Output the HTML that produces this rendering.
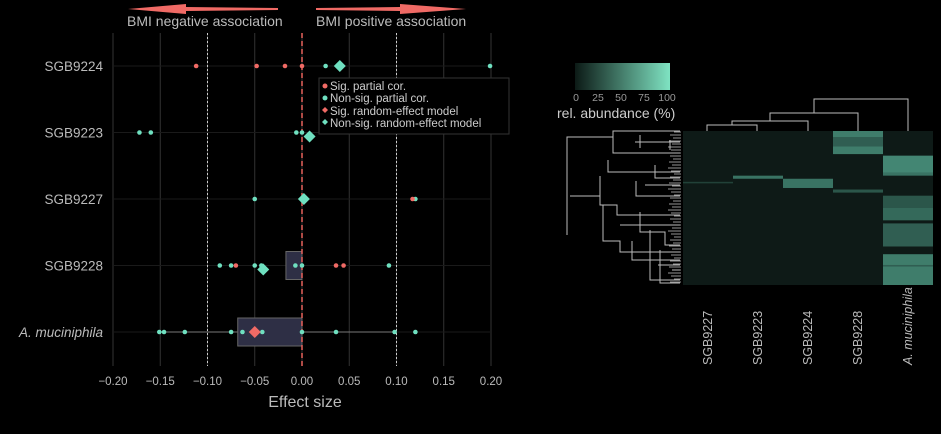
<!DOCTYPE html>
<html><head><meta charset="utf-8"><style>
body{margin:0;background:#000;width:941px;height:429px;overflow:hidden;font-family:"Liberation Sans",sans-serif}
text{font-family:"Liberation Sans",sans-serif}
</style></head><body>
<svg id="s" width="941" height="429">
<defs><linearGradient id="g" x1="0" x2="1"><stop offset="0" stop-color="#0c1a16"/><stop offset="1" stop-color="#7fe3c2"/></linearGradient></defs>
</svg>
<script>
const ticks=[-0.20,-0.15,-0.10,-0.05,0.00,0.05,0.10,0.15,0.20];
const rows=["SGB9224","SGB9223","SGB9227","SGB9228","A. muciniphila"];
const sigPts=[[0,-0.112],[0,-0.048],[0,-0.018],[0,0.0],[3,-0.070],[3,0.036],[3,0.044],[2,0.117]];
const nsPts=[[0,0.025],[0,0.199],[1,-0.172],[1,-0.160],[1,-0.006],[1,0.0],[2,-0.050],[2,0.120],[3,-0.087],[3,-0.075],[3,-0.050],[3,-0.043],[3,-0.007],[3,0.0],[3,0.092],[4,-0.151],[4,-0.146],[4,-0.124],[4,-0.075],[4,-0.063],[4,-0.042],[4,0.0],[4,0.036],[4,0.098],[4,0.120]];
const diamonds=[[0,0.040,0],[1,0.008,0],[2,0.002,0],[3,-0.041,0],[4,-0.050,1]];
const boxes=[[3,-0.017,0.0],[4,-0.068,0.0]];
const whisk=[[4,-0.151,0.098]];
const cols=["SGB9227","SGB9223","SGB9224","SGB9228","A. muciniphila"];
const bands=[[0,0.33,0.34,0.2],[1,0.29,0.31,0.45],[2,0.31,0.37,0.45],[3,0.0,0.04,0.5],[3,0.04,0.1,0.35],[3,0.1,0.15,0.5],[3,0.38,0.4,0.3],[4,0.16,0.27,0.55],[4,0.27,0.29,0.45],[4,0.42,0.5,0.3],[4,0.5,0.58,0.4],[4,0.6,0.75,0.35],[4,0.8,0.87,0.5],[4,0.87,0.88,0.35],[4,0.88,1.0,0.5]];
const S=document.getElementById('s');const NS='http://www.w3.org/2000/svg';
function el(t,a,p){const e=document.createElementNS(NS,t);for(const k in a)e.setAttribute(k,a[k]);(p||S).appendChild(e);return e}
const X=v=>302+v*945, Y=i=>66+i*66.5;
for(const t of ticks){const g=el('line',{x1:X(t),x2:X(t),y1:33,y2:366,stroke:'#333','stroke-width':1});

const tx=el('text',{x:X(t),y:385,fill:'#bbb','font-size':11.5,'text-anchor':'middle'});tx.textContent=t.toFixed(2).replace('-','−');
}
rows.forEach((r,i)=>{el('line',{x1:112,x2:491,y1:Y(i),y2:Y(i),stroke:'#1a1a1a'});
const t=el('text',{x:103,y:Y(i)+5,fill:'#bbb','font-size':13.5,'text-anchor':'end','font-style':i==4?'italic':'normal'});t.textContent=r;
});
for(const v of [-0.1,0.1])el('line',{x1:X(v),x2:X(v),y1:33,y2:366,stroke:'#ccc','stroke-dasharray':'2,2'});
for(const w of whisk){const l=el('line',{x1:X(w[1]),x2:X(w[2]),y1:Y(w[0]),y2:Y(w[0]),stroke:'#777'});}
for(const b of boxes){const r=el('rect',{x:X(b[1]),y:Y(b[0])-14,width:X(b[2])-X(b[1]),height:28,fill:'#2e2f45',stroke:'#666'});
}
el('line',{x1:302,x2:302,y1:33,y2:366,stroke:'#e8625c','stroke-width':1.5,'stroke-dasharray':'5,3'});
for(const p of nsPts){const c=el('circle',{cx:X(p[1]),cy:Y(p[0]),r:2.3,fill:'#6fe0c0'});}
for(const p of sigPts){const c=el('circle',{cx:X(p[1]),cy:Y(p[0]),r:2.3,fill:'#f06a65'});}
for(const d of diamonds){const x=X(d[1]),y=Y(d[0])+(d[0]==1||d[0]==3?4:0);
const p=el('polygon',{points:`${x},${y-6} ${x+6},${y} ${x},${y+6} ${x-6},${y}`,fill:d[2]?'#f06a65':'#6fe0c0'});
}
const hx=683,hy=131,hw=50,hh=154;
cols.forEach((c,i)=>{el('rect',{x:hx+i*hw,y:hy,width:hw,height:hh,fill:'#0e1a17'});
const t=el('text',{transform:`translate(${hx+i*hw+29},365) rotate(-90)`,fill:'#bbb','font-size':12.5,'font-style':i==4?'italic':'normal'});t.textContent=c;
});
for(const b of bands){const r=el('rect',{x:hx+b[0]*hw,y:hy+b[1]*hh,width:hw,height:(b[2]-b[1])*hh,fill:'#6fe0c0','fill-opacity':b[3]});
}
// dendrogram leaf ticks
const dg=el('g',{stroke:'#bbb','stroke-width':0.8});
for(let y=132;y<285;y+=3){el('line',{x1:668+(y%7),x2:681,y1:y,y2:y},dg);}
</script>
<svg width="941" height="429" style="position:absolute;left:0;top:0">
<polygon points="128,9 186,4 186,7 278,8 278,10 186,11 186,14" fill="#f06a65"/>
<polygon points="466,9 400,4 400,7 316,8 316,10 400,11 400,14" fill="#f06a65"/>
<text x="127" y="26" fill="#bbb" font-size="14">BMI negative association</text>
<text x="316" y="26" fill="#bbb" font-size="14">BMI positive association</text>
<text x="305" y="407" fill="#bbb" font-size="16" text-anchor="middle">Effect size</text>
<g>
<rect x="319" y="78" width="190" height="56" fill="#000" stroke="#333"/>
<circle cx="325" cy="86" r="2.5" fill="#f06a65"/><text x="330" y="90" fill="#ccc" font-size="11.5">Sig. partial cor.</text>
<circle cx="325" cy="98" r="2.5" fill="#6fe0c0"/><text x="330" y="102" fill="#ccc" font-size="11.5">Non-sig. partial cor.</text>
<polygon points="325,107 328,110 325,113 322,110" fill="#f06a65"/><text x="330" y="115" fill="#ccc" font-size="11.5">Sig. random-effect model</text>
<polygon points="325,119 328,122 325,125 322,122" fill="#6fe0c0"/><text x="330" y="127" fill="#ccc" font-size="11.5">Non-sig. random-effect model</text>
</g>
<rect x="575" y="63" width="95" height="27" fill="url(#g)"/>
<g fill="#999" font-size="10.5" text-anchor="middle">
<text x="576" y="101">0</text><text x="598" y="101">25</text><text x="621" y="101">50</text><text x="644" y="101">75</text><text x="667" y="101">100</text></g>
<text x="557" y="118" fill="#ccc" font-size="14">rel. abundance (%)</text>
<g fill="none" stroke="#bbb" stroke-width="1">
<path d="M707,131V125H757V131M732,125V121H808V131M770,121V113H858V131M814,113V99H908V131"/>
</g>
<g fill="none" stroke="#bbb" stroke-width="1">
<path d="M567,186V137H613V137M567,186V235M613,137V153H680M613,137V131H680M608,160V172H680M570,196H600M600,176V205H617V215H680M603,205V241H620V252H680M620,225H680M632,241V260H680M640,212V232H665V245H680M650,230V280H680M660,250V283H680M645,185H680M636,181V196H680M635,142H680M640,148V135M655,165V178H680M670,140V150M672,270H680M658,265H680"/>
</g>
</svg>
</body></html>
